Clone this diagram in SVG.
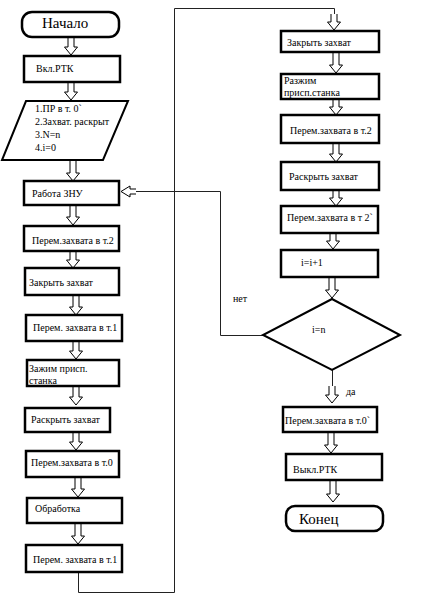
<svg xmlns="http://www.w3.org/2000/svg" width="424" height="610" viewBox="0 0 424 610">
<style>
.box{fill:#fff;stroke:#000;stroke-width:2.5}
.shape{fill:#fff;stroke:#000;stroke-width:2}
.t{font-family:'Liberation Serif','DejaVu Serif',serif;font-size:10px;fill:#000}
.big{font-family:'Liberation Serif','DejaVu Serif',serif;font-size:15px;fill:#000}
.line{fill:none;stroke:#222;stroke-width:1}
.arr{fill:#fff;stroke:#000;stroke-width:1}
</style>
<rect width="424" height="610" fill="#fff"/>
<g id="connectors">
<path class="line" d="M78.5,572 V592.5 H174.5 V8.5 H334.5 V14"/>
<path class="line" d="M263,335.5 H220.5 V191.5 H136"/>
<path class="line" d="M332.5,370 V386"/>
<path class="arr" d="M136,189 H130 V186 L121,191.5 L130,197 V194 H136"/>
<path class="arr" d="M68,37 V47 H64.5 L71,55 L77.5,47 H74 V37"/>
<path class="arr" d="M68,82 V92 H64.5 L71,100 L77.5,92 H74 V82"/>
<path class="arr" d="M70,161 V173 H66.5 L73,181 L79.5,173 H76 V161"/>
<path class="arr" d="M70,205 V217 H66.5 L73,225 L79.5,217 H76 V205"/>
<path class="arr" d="M70,251 V260 H66.5 L73,268 L79.5,260 H76 V251"/>
<path class="arr" d="M73,295 V307 H69.5 L76,315 L82.5,307 H79 V295"/>
<path class="arr" d="M73,341 V351 H69.5 L76,359 L82.5,351 H79 V341"/>
<path class="arr" d="M73,386 V397 H69.5 L76,405 L82.5,397 H79 V386"/>
<path class="arr" d="M73,432 V442 H69.5 L76,450 L82.5,442 H79 V432"/>
<path class="arr" d="M75,477 V489 H71.5 L78,497 L84.5,489 H81 V477"/>
<path class="arr" d="M75,523 V536 H71.5 L78,544 L84.5,536 H81 V523"/>
<path class="arr" d="M331,14 V22 H327.5 L334,30 L340.5,22 H337 V14"/>
<path class="arr" d="M333,52 V65 H329.5 L336,73 L342.5,65 H339 V52"/>
<path class="arr" d="M333,99 V107 H329.5 L336,115 L342.5,107 H339 V99"/>
<path class="arr" d="M333,143 V154 H329.5 L336,162 L342.5,154 H339 V143"/>
<path class="arr" d="M333,190 V198 H329.5 L336,206 L342.5,198 H339 V190"/>
<path class="arr" d="M330,233 V241 H326.5 L333,249 L339.5,241 H336 V233"/>
<path class="arr" d="M329,277 V290 H325.5 L332,298 L338.5,290 H335 V277"/>
<path class="arr" d="M329,386 V395 H325.5 L332,403 L338.5,395 H335 V386"/>
<path class="arr" d="M328,432 V445 H324.5 L331,453 L337.5,445 H334 V432"/>
<path class="arr" d="M330,480 V494 H326.5 L333,502 L339.5,494 H336 V480"/>
</g>
<g id="start"><rect class="box" x="22" y="12" width="97" height="25" rx="10"/><text class="big" x="42" y="28">Начало</text></g>
<g id="n1"><rect class="box" x="24" y="56" width="96" height="26"/><text class="t" x="36" y="72">Вкл.РТК</text></g>
<g id="n2"><polygon class="shape" points="26,101 128,101 103,160 2,160"/>
<text class="t" x="35" y="112">1.ПР в т. 0`</text>
<text class="t" x="35" y="125">2.Захват. раскрыт</text>
<text class="t" x="35" y="138">3.N=n</text>
<text class="t" x="35" y="151">4.i=0</text></g>
<g id="n3"><rect class="box" x="24" y="181" width="95" height="24"/><text class="t" x="32" y="197">Работа ЗНУ</text></g>
<g id="n4"><rect class="box" x="24" y="226" width="95" height="25"/><text class="t" x="32" y="244">Перем.захвата в т.2</text></g>
<g id="n5"><rect class="box" x="25" y="268" width="94" height="27"/><text class="t" x="29" y="286">Закрыть захват</text></g>
<g id="n6"><rect class="box" x="26" y="315" width="96" height="26"/><text class="t" x="33" y="331">Перем. захвата в т.1</text></g>
<g id="n7"><rect class="box" x="27" y="360" width="92" height="26"/><text class="t" x="29" y="372">Зажим присп.</text><text class="t" x="29" y="384">станка</text></g>
<g id="n8"><rect class="box" x="25" y="408" width="85" height="24"/><text class="t" x="31" y="423">Раскрыть захват</text></g>
<g id="n9"><rect class="box" x="26" y="451" width="93" height="26"/><text class="t" x="31" y="466">Перем.захвата в т.0</text></g>
<g id="n10"><rect class="box" x="27" y="498" width="95" height="25"/><text class="t" x="35" y="512">Обработка</text></g>
<g id="n11"><rect class="box" x="26" y="545" width="96" height="27"/><text class="t" x="33" y="563">Перем. захвата в т.1</text></g>
<g id="r1"><rect class="box" x="281" y="31" width="98" height="21"/><text class="t" x="287" y="46">Закрыть захват</text></g>
<g id="r2"><rect class="box" x="281" y="74" width="98" height="25"/><text class="t" x="284" y="84">Разжим</text><text class="t" x="284" y="96">присп.станка</text></g>
<g id="r3"><rect class="box" x="281" y="115" width="98" height="28"/><text class="t" x="290" y="134">Перем.захвата в т.2</text></g>
<g id="r4"><rect class="box" x="281" y="162" width="98" height="28"/><text class="t" x="289" y="180">Раскрыть захват</text></g>
<g id="r5"><rect class="box" x="281" y="206" width="97" height="27"/><text class="t" x="287" y="221">Перем.захвата в т 2`</text></g>
<g id="r6"><rect class="box" x="281" y="250" width="97" height="27"/><text class="t" x="301" y="266">i=i+1</text></g>
<g id="d1"><polygon class="shape" points="332,299 400,335 332,370 263,335"/><text class="t" x="312" y="333">i=n</text></g>
<g id="r7"><rect class="box" x="283" y="407" width="94" height="25"/><text class="t" x="285" y="424">Перем.захвата в т.0`</text></g>
<g id="r8"><rect class="box" x="286" y="454" width="96" height="26"/><text class="t" x="293" y="473">Выкл.РТК</text></g>
<g id="end"><rect class="box" x="286" y="506" width="97" height="25" rx="9"/><text class="big" x="299" y="524">Конец</text></g>
<g id="labels"><text class="t" x="233" y="302">нет</text><text class="t" x="346" y="395">да</text></g>
</svg>
